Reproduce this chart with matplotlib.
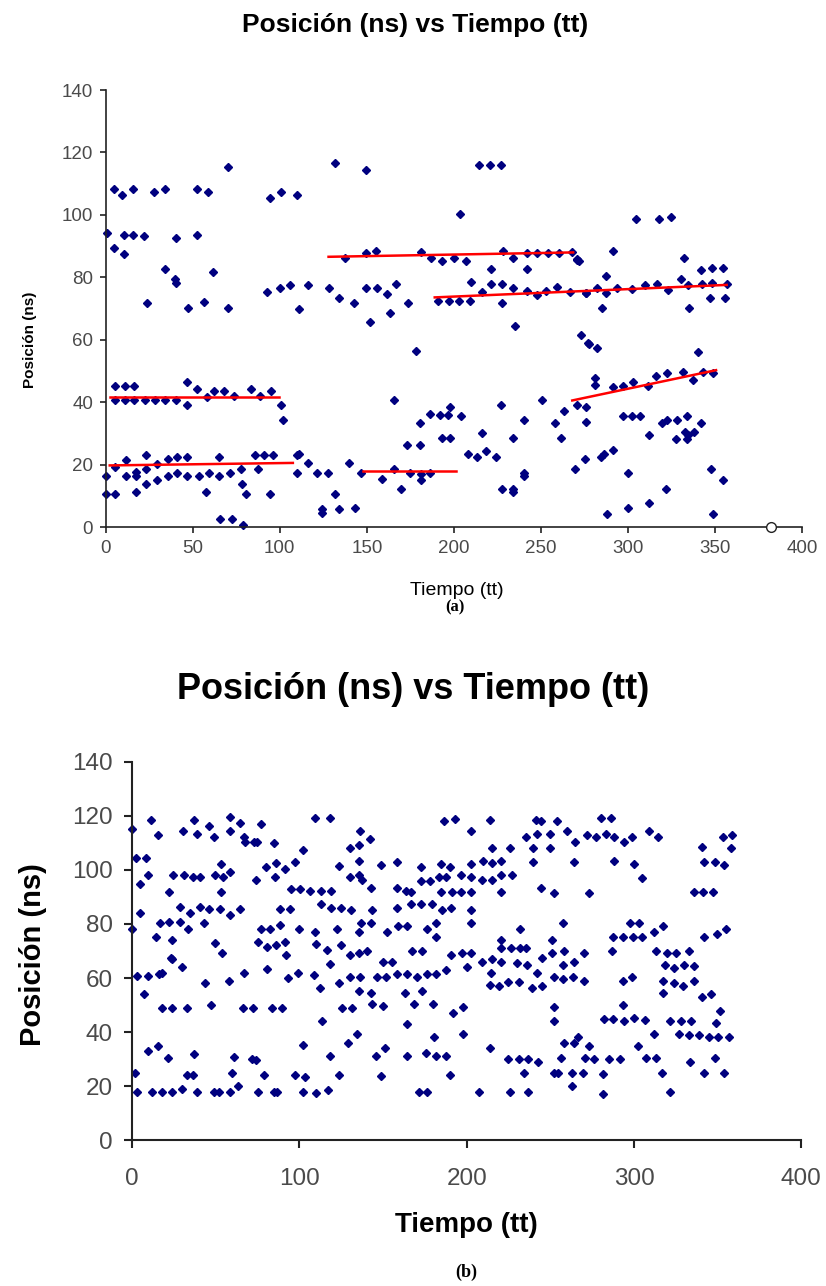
import matplotlib.pyplot as plt

# ---- panel (a) data ----
time_a = [1, 4.6, 9.6, 15.9, 4.8, 10.5, 10.5, 15.9, 21.8, 27.8, 34.3, 40.6, 34.3, 40, 40.3,
          52.5, 58.6, 52.5, 61.7, 70.5, 23.7, 47.3, 56.5, 70.5, 94.3, 100.6, 109.6, 92.9, 100,
          105.7, 111,
          5.2, 10.9, 16.3, 5.2, 10.9, 16.3, 22.4, 28.2, 34.3, 40.6, 46.9, 46.9, 52.6, 58.2,
          62.2, 67.8, 73.7, 83.2, 88.5, 94.7, 100.6, 102.1,
          0, 0, 5.5, 5.5, 11.9, 11.9, 17.6, 17.6, 17.2, 23.4, 23.4, 23.4, 29.5, 29.5, 35.8,
          35.8, 41, 46.9, 41, 46.9, 53.4, 57.8, 59.4, 65.1, 65.1, 65.5, 71.6, 72.6, 77.6,
          78.3, 80.8, 78.9, 85.6, 87.2, 90.9, 96.1, 94.3, 110, 110,
          131.6, 149.8, 203.4, 214.5, 221, 227.3, 137.4, 149.8, 155.5, 181, 186.8, 193.4,
          200.2, 206.9, 228.3, 234, 241.8, 247.8, 254.1, 260.5, 267.6, 270.8, 272, 291.5,
          304.9, 318, 325, 332, 342, 348, 354.4, 330.5, 287.4, 348, 357, 347, 356, 284.8,
          335.2,
          209.8, 221.6, 241.8, 221.3, 227.8, 234, 241.8, 247.8, 253.2, 259, 215.9, 190.6,
          197.1, 203, 209.2, 266.7, 275.9, 227.8,
          116.3, 128.4, 134.1, 142.7, 149.8, 155.9, 161.3, 166.7, 173.7,
          275.7, 282, 287.4, 293.5, 302.1, 309.8, 316.9, 323.2, 334.6, 342.3, 270.5,
          235, 151.7, 163.2, 178, 272.8, 277.2, 165.7, 227, 250.4, 186.2, 192, 196.7, 197.7,
          204, 180.8, 192.9, 197.7, 173.3, 180.5, 216.3, 218.7, 208.2, 213, 224.1, 233.7,
          240.4, 258, 261.3, 263.4, 270.5, 275.9, 275.9, 269.5, 275.2,
          111, 116.3, 121.6, 127.4, 139.8, 146.6, 131.6, 124, 124, 134.1, 143.1, 158.8,
          165.7, 169.9, 174.7, 181, 181, 186.2, 227.9, 233.7, 233.7, 240.4, 240.4,
          277.6, 282, 340.4, 281, 281, 291.5, 297.3, 303, 311.7, 316.1, 322.2, 331.8, 337.5,
          343.2, 349, 297.3, 302.6, 306.9, 312.2, 319.3, 322.6, 327.9, 327.6, 334.1, 332.8,
          334.7, 334.1, 337.9, 342, 284.5, 286.4, 291.5, 300.2, 321.8, 312.2, 300.2, 288.1,
          348.6, 347.7, 354.4]
pos_a = [94.3, 108.2, 106.4, 108.2, 89.3, 87.5, 93.5, 93.5, 93.3, 107.3, 108.2, 92.7, 82.6,
         79.5, 78.3, 108.2, 107.3, 93.5, 81.6, 115.5, 71.7, 70.3, 72.2, 70.3, 105.3, 107.3,
         106.4, 75.2, 76.5, 77.6, 70,
         45.2, 45.2, 45.2, 40.7, 40.7, 40.7, 40.7, 40.7, 40.7, 40.7, 46.6, 39.3, 44.4, 41.8,
         43.7, 43.7, 42.1, 44.4, 42.1, 43.7, 39.3, 34.3,
         16.4, 10.8, 10.8, 19.3, 21.5, 16.4, 17.7, 16.4, 11.3, 23.1, 18.8, 13.7, 20.4, 15.1,
         21.7, 16.4, 22.5, 22.5, 17.5, 16.4, 16.4, 11.3, 17.5, 22.5, 16.4, 2.8, 17.5, 2.8,
         18.8, 13.7, 10.8, 0.6, 23.1, 18.8, 23.1, 23.1, 10.8, 23.1, 17.5,
         116.6, 114.4, 100.2, 116, 116, 116, 86.1, 87.7, 88.5, 88, 86.1, 85.4, 86.1, 85.4,
         88.5, 86.1, 87.7, 87.7, 87.7, 87.7, 88, 86, 85.4, 88.5, 98.6, 98.6, 99.4, 86.3,
         82.4, 82.9, 82.9, 79.5, 80.5, 78.1, 77.9, 73.5, 73.5, 70.3, 70.3,
         78.4, 82.6, 82.6, 77.8, 77.8, 76.7, 75.6, 74.4, 75.6, 76.8, 75.2, 72.5, 72.5, 72.5,
         72.5, 75.3, 75, 71.7,
         77.6, 76.5, 73.5, 71.9, 76.5, 76.5, 74.6, 77.9, 71.7,
         74.9, 76.7, 74.9, 76.5, 76.2, 77.6, 77.8, 75.9, 77.6, 77.9, 85.7,
         64.4, 65.6, 68.7, 56.4, 61.5, 58.9, 40.7, 39.3, 40.9, 36.4, 35.9, 35.9, 38.6, 35.6,
         33.4, 28.6, 28.6, 26.3, 26.3, 30.3, 24.5, 23.4, 22.5, 22.5, 28.6, 34.3, 33.4, 28.6,
         37.2, 39.3, 38.6, 33.6, 18.8, 21.7,
         23.6, 20.6, 17.5, 17.5, 20.6, 17.5, 10.6, 6, 4.7, 5.7, 6.3, 15.3, 18.8, 12.4, 17.5,
         17.2, 15.1, 17.5, 12.2, 12.2, 11.3, 17.5, 16.4,
         58.6, 57.5, 56.2, 47.7, 45.5, 44.8, 45.2, 46.6, 45.2, 48.4, 49.5, 49.8, 47.3, 49.8,
         49.3, 35.6, 35.6, 35.6, 29.7, 33.4, 34.3, 34.5, 28.4, 35.6, 30.5, 29.5, 28.4, 30.5,
         33.4, 22.5, 23.6, 24.7, 17.4, 12.2, 7.8, 6.3, 4.4, 4.4, 18.6, 15.1]

# trend lines drawn over panel (a)
trend_t0 = [2.3, 2.3, 148, 128, 189, 268]
trend_t1 = [99.4, 107.5, 201, 268.5, 356.7, 350.6]
trend_p0 = [41.6, 19.8, 18.0, 86.6, 73.6, 40.6]
trend_p1 = [41.6, 20.6, 18.0, 88.0, 77.6, 50.3]
open_marker = (382, 0)

# ---- panel (b) data ----
time_b = [0, 2.4, 8.2, 4.4, 9.4, 11.2, 15.4, 4.8, 0, 14.4, 16.8, 22.3, 23.8, 22.3, 24.4, 30.7,
          28.7, 28.7, 33.3, 34.3, 36.3, 40.3, 30.3, 37.1, 38.7, 45.7, 49.1, 40.3, 42.7, 46.1,
          49.3, 54.3, 53.1, 58.3, 53.1, 52.3, 58.3, 64.3, 49.3, 53.7, 58.7, 58.7, 64.3, 66.6,
          67.2, 72.6, 74.6, 77.2, 84.6, 74.3, 80.2, 86.2, 91.6, 85.6, 97.6, 95.2, 100.2, 88.2,
          94.6, 75.3, 77.2, 82.6, 88.2, 80.7, 86.2, 91.6, 99.6, 92.2, 23.4,
          2.8, 9.2, 15.8, 6.8, 17.8, 23.8, 29.8, 17.8, 24.1, 32.8, 43.7, 47.3, 58.1, 67.1,
          66.3, 72, 80.7, 83.7, 89.6, 93, 99.2, 1.8, 2.8, 9.4, 15.2, 21.3, 11.8, 17.8, 24.1,
          29.8, 32.8, 36.3, 36.7, 38.7, 48.7, 52.1, 58.3, 59.7, 60.6, 63, 71.7, 74.3, 75, 79,
          84.6, 86.6, 97.2,
          109.6, 118.1, 136.5, 141.9, 135.5, 130.1, 102.2, 123.6, 135.5, 148.5, 158.1, 130.5,
          135.5, 137.5, 172.5, 184.4, 190, 172.5, 178, 183.4, 187.4, 186.4, 193, 202.4, 213.8,
          215.4, 225.9, 235.3, 241.3, 244.7, 241.9, 239.9, 249.9, 253.9, 249.9, 259.9, 264.9,
          271.9, 239.9, 264.3, 202.8, 210, 215.4, 220.8, 196.8, 202.8, 209.4, 215.4, 220.8,
          226.8, 244.7, 251.9, 273.2, 220.8, 106.6, 112.6, 118.6, 142.5, 158.1, 163.5, 166.9,
          184.4, 191, 196.4, 202.4, 112.6, 118.6, 125.1, 131, 143.1, 158.1, 166.9, 172.9,
          179.5, 185, 190.4, 202.8, 202.4, 137.1, 142.5, 109.6, 122.6, 135.5, 152.5, 159.1,
          164.5, 176.4, 181.4, 181.8, 231.7, 257.3, 251.3, 110.2, 116.6, 125.1, 130.1, 135.5,
          140.5, 167.1, 173.1, 190.8, 197, 202.4, 220.4, 220.4, 226.3, 231.9, 235.3, 251.3,
          257.9, 269.9,
          280.2, 286.2, 277.2, 283.2, 287.8, 294.2, 298.8, 308.8, 314.6, 287.8, 299.8, 304.8,
          340.7, 353.1, 358.5, 358.1, 342.1, 348.5, 354.1, 335.7, 341.5, 347.1, 297.8, 303.2,
          287.2, 293.2, 299.2, 304.8, 311.8, 317.2, 341.7, 349.5, 355.1, 286.6, 313.2, 319.6,
          325.1, 333.1,
          108.6, 112.2, 118.1, 123.6, 130.1, 136.1, 135.5, 142.5, 146.1, 151.5, 150.1, 155.5,
          158.5, 164.1, 170.1, 176, 181.8, 163, 173, 187.4, 200.4, 209.4, 215, 220.4, 214.4,
          213.8, 219.4, 224.4, 231.3, 230.3, 236.3, 242.3, 239.3, 245.3, 245.3, 257.3, 264.3,
          251.9, 257.3, 263.3, 269.9, 125.6, 131.6, 143.5, 150.1, 168.4, 180, 192, 197.8,
          252.3, 252.3, 113.6, 164.5, 102.2, 129.2, 134.6, 118, 145.5, 151.1, 164.1, 180.4,
          175.4, 181.8, 187.4, 197.8, 214, 224.4, 231, 236.7, 242.7, 234.3, 257.9, 264.3,
          266.3, 272.9, 256.3, 270.7, 252.3, 254.3, 262.7, 269.3, 262.7, 103.6, 123.6, 148.5,
          190, 102.2, 110.2, 117.2, 171.5, 176.4, 207.4, 225.9, 236.7,
          293.2, 298.8, 318.6, 324.1, 330.1, 335.7, 317.2, 323.7, 329.1, 335.7, 317.2, 340.5,
          346.1, 351.6, 293.2, 282.2, 287.2, 293.8, 299.8, 306.6, 312.2, 321.7, 328.1, 334.1,
          349.1, 327.1, 333.1, 339.1, 345.1, 350.1, 357.1, 302.2, 276.2, 285.2, 291.8, 307.2,
          313.2, 333.7, 348.5, 281.2, 316.6, 341.7, 353.7, 281.2, 321.7]
pos_b = [115, 104.3, 104.3, 94.8, 98.1, 118.5, 113, 84.2, 78.1, 75.3, 80.2, 80.9, 74.1, 92,
         98.1, 98.1, 86.4, 80.9, 78.1, 84, 97.3, 97.3, 114.4, 118.5, 113.2, 116.3, 112.3,
         86.4, 80.2, 85.4, 98.1, 97.3, 102.2, 99.4, 92, 85.4, 83.3, 85.4, 73.1, 69.1, 119.5,
         114.6, 117.5, 112.3, 110.3, 110.3, 110.3, 116.9, 110.1, 96.3, 101.2, 102.5, 100.2,
         97.3, 103.1, 93, 93, 85.4, 85.4, 73.5, 78.1, 78.1, 79.6, 71.4, 72.2, 73.2, 78.1,
         68.5, 67.3,
         60.7, 60.7, 61.5, 54, 62, 66.9, 64, 49, 49, 49, 58, 50, 59, 62, 49, 49, 63.2, 49, 49,
         59.9, 62, 24.9, 17.9, 33, 34.9, 30.2, 17.9, 17.9, 17.9, 18.8, 24.1, 24.1, 31.9, 17.9,
         17.9, 17.9, 17.9, 24.9, 30.9, 20, 29.9, 29.6, 17.9, 24.1, 17.9, 17.9, 24.1,
         119.1, 119.1, 114.4, 111.4, 109.3, 108.3, 107.4, 101.5, 103.5, 101.9, 103.1, 97.3,
         98.1, 96.3, 101.2, 102.2, 101.2, 96, 96, 97.3, 97.3, 118.3, 118.9, 114.4, 118.5,
         108.3, 108.3, 112.3, 118.5, 118.3, 113.2, 108.3, 113.2, 118.3, 108.3, 114.4, 110.3,
         113, 103.1, 103.1, 102.2, 103.5, 102.5, 103.5, 98.1, 97.3, 96.3, 96.3, 98.1, 98.1,
         93.5, 91.4, 91.4, 92, 92.2, 92.2, 92.2, 93.2, 93.5, 92.2, 92, 92, 92, 92, 92, 87.4,
         86, 86, 85.2, 85.2, 86, 87.4, 87.4, 87.4, 85.2, 86, 85.2, 80.2, 80.2, 80.5, 76.9,
         78, 76.9, 77.2, 79.3, 79.3, 78, 80.2, 75.1, 78, 80.2, 74.1, 72.5, 70.4, 72.2, 68.5,
         69.4, 70.1, 70.1, 70.1, 68.5, 69.4, 69.4, 74.1, 71, 71, 71, 71, 69.4, 70.1, 69.4,
         119.1, 119.1, 112.1, 113.2, 112.1, 110.5, 112.1, 114.6, 112.1, 103.5, 102.1, 97.2,
         108.4, 112.1, 113, 108, 103.1, 103.1, 101.9, 92, 92, 92, 80.2, 80.2, 75.1, 75.1,
         75.1, 75.1, 77.2, 79.3, 75.1, 76.2, 78.1, 70.1, 70.1, 69.1, 69.1, 70.1,
         61.1, 56.2, 65.2, 58, 60.2, 60.2, 55.3, 54.3, 60.2, 60.2, 66, 66, 61.4, 61.4, 60.5,
         61.4, 61.4, 54.3, 55.3, 63, 64.2, 66, 66.9, 66, 62, 57.4, 57, 58.6, 58.6, 65.4, 64.8,
         62, 56.2, 57, 67.3, 64.8, 66, 60.5, 59.5, 60.5, 59, 49, 49, 50.4, 49.6, 50.4, 50.4,
         47.2, 49.1, 49.1, 44.2, 44.2, 43, 35.2, 36, 39.3, 31.1, 31.1, 34.2, 31.1, 38, 32.3,
         31.1, 31.1, 39.3, 34.2, 29.9, 29.9, 29.9, 29, 24.9, 36, 36, 38, 34.8, 30.2, 30.2,
         24.9, 24.9, 24.9, 24.9, 20, 23.2, 24.1, 23.7, 24.1, 17.9, 17.5, 18.5, 17.9, 17.9,
         17.9, 17.9, 17.9,
         59, 60.2, 64.8, 63.6, 64.8, 64.4, 59, 58.3, 57, 59, 54.3, 52.8, 54, 47.9, 50, 44.7,
         44.7, 44.1, 45.1, 44.4, 39.3, 44.1, 44.1, 44.1, 43.5, 39.3, 38.9, 38.9, 38.3, 38, 38,
         34.8, 29.9, 29.9, 29.9, 30.2, 30.2, 29, 30.2, 24.4, 24.9, 24.9, 24.9, 17, 17.9]

x_ticks = [0, 50, 100, 150, 200, 250, 300, 350, 400]
x_ticks_b = [0, 100, 200, 300, 400]
y_ticks = [0, 20, 40, 60, 80, 100, 120, 140]

navy = '#00007f'
grey = '#4a4a4a'
plt.rcParams['font.family'] = ['Liberation Sans', 'DejaVu Sans']

fig = plt.figure(figsize=(8.26, 12.86), dpi=100)


def style_axes(ax, xt, fs, lw, tl, pad):
    for s in ['top', 'right']:
        ax.spines[s].set_visible(False)
    for s in ['left', 'bottom']:
        ax.spines[s].set_linewidth(lw)
        ax.spines[s].set_color('#222222')
    ax.set_xlim(0, 400)
    ax.set_ylim(0, 140)
    ax.set_xticks(xt)
    ax.set_yticks(y_ticks)
    ax.tick_params(direction='out', length=tl, width=lw, labelsize=fs,
                   labelcolor=grey, color='#222222', pad=pad)
    ax.patch.set_alpha(0)


# panel (a)
ax1 = fig.add_axes([0.128, 0.590, 0.843, 0.340])
style_axes(ax1, x_ticks, 13.5, 1.2, 4, 5)
ax1.plot(time_a, pos_a, ls='none', marker='D', ms=4.4, color=navy, clip_on=False)
for t0, t1, p0, p1 in zip(trend_t0, trend_t1, trend_p0, trend_p1):
    ax1.plot([t0, t1], [p0, p1], color='red', lw=1.8)
ax1.plot(*open_marker, ls='none', marker='o', ms=7, mfc='white', mec='#222222', mew=1.0,
         clip_on=False, zorder=5)

fig.text(0.502, 0.9806, 'Posición (ns) vs Tiempo (tt)', ha='center', va='center',
         fontsize=19, fontweight='bold')
fig.text(0.036, 0.7356, 'Posición (ns)', rotation=90, ha='center', va='center',
         fontsize=11, fontweight='bold')
fig.text(0.553, 0.5412, 'Tiempo (tt)', ha='center', va='center', fontsize=14)
fig.text(0.551, 0.5275, '(a)', ha='center', va='center', fontsize=12, fontweight='bold',
         family='Liberation Serif')

# panel (b)
ax2 = fig.add_axes([0.160, 0.1135, 0.810, 0.294])
style_axes(ax2, x_ticks_b, 17.5, 1.5, 6, 14)
ax2.tick_params(axis='y', pad=8)
ax2.plot(time_b, pos_b, ls='none', marker='D', ms=4.0, color=navy, clip_on=False)

fig.text(0.5, 0.4635, 'Posición (ns) vs Tiempo (tt)', ha='center', va='center',
         fontsize=26, fontweight='bold')
fig.text(0.04, 0.2574, 'Posición (ns)', rotation=90, ha='center', va='center',
         fontsize=21, fontweight='bold')
fig.text(0.565, 0.0474, 'Tiempo (tt)', ha='center', va='center', fontsize=20,
         fontweight='bold')
fig.text(0.565, 0.0109, '(b)', ha='center', va='center', fontsize=13, fontweight='bold',
         family='Liberation Serif')

fig.savefig('out.png', dpi=100, facecolor='white')
